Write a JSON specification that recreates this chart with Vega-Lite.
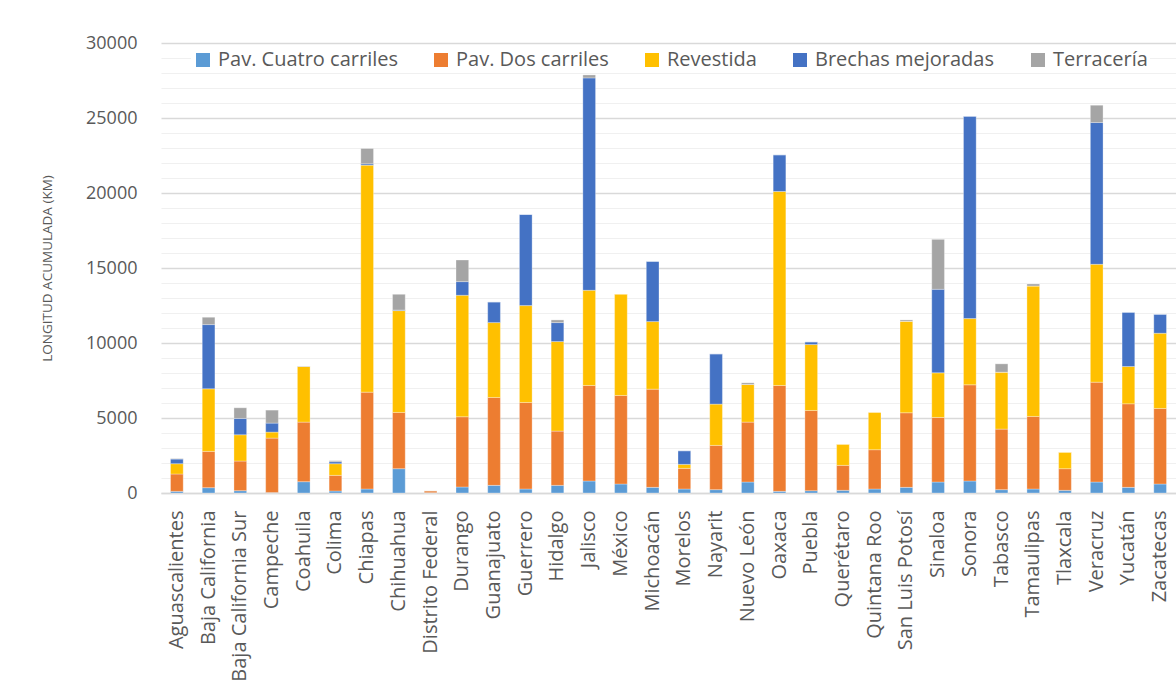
{
  "$schema": "https://vega.github.io/schema/vega-lite/v6.json",
  "width": 1015,
  "height": 450,
  "autosize": {"type": "none"},
  "padding": {"left": 161, "top": 43, "right": 0, "bottom": 199},
  "background": "white",
  "datasets": {
    "tipos": [
      {"k": "c4", "tipo": "Pav. Cuatro carriles", "n": 1},
      {"k": "c2", "tipo": "Pav. Dos carriles", "n": 2},
      {"k": "rev", "tipo": "Revestida", "n": 3},
      {"k": "bre", "tipo": "Brechas mejoradas", "n": 4},
      {"k": "ter", "tipo": "Terracería", "n": 5}
    ]
  },
  "data": {
    "values": [
      {"estado": "Aguascalientes", "c4": 110, "c2": 1155, "rev": 688, "bre": 310, "ter": 30},
      {"estado": "Baja California", "c4": 355, "c2": 2419, "rev": 4171, "bre": 4283, "ter": 488},
      {"estado": "Baja California Sur", "c4": 155, "c2": 1975, "rev": 1753, "bre": 1088, "ter": 710},
      {"estado": "Campeche", "c4": 30, "c2": 3630, "rev": 400, "bre": 600, "ter": 865},
      {"estado": "Coahuila", "c4": 754, "c2": 3972, "rev": 3706, "bre": 0, "ter": 30},
      {"estado": "Colima", "c4": 133, "c2": 1043, "rev": 777, "bre": 133, "ter": 66},
      {"estado": "Chiapas", "c4": 266, "c2": 6458, "rev": 15133, "bre": 89, "ter": 1021},
      {"estado": "Chihuahua", "c4": 1620, "c2": 3750, "rev": 6790, "bre": 40, "ter": 1047},
      {"estado": "Distrito Federal", "c4": 20, "c2": 135, "rev": 0, "bre": 0, "ter": 0},
      {"estado": "Durango", "c4": 400, "c2": 4682, "rev": 8099, "bre": 910, "ter": 1442},
      {"estado": "Guanajuato", "c4": 510, "c2": 5859, "rev": 4992, "bre": 1376, "ter": 0},
      {"estado": "Guerrero", "c4": 266, "c2": 5770, "rev": 6457, "bre": 6080, "ter": 0},
      {"estado": "Hidalgo", "c4": 510, "c2": 3617, "rev": 5969, "bre": 1265, "ter": 178},
      {"estado": "Jalisco", "c4": 799, "c2": 6368, "rev": 6347, "bre": 14157, "ter": 200},
      {"estado": "México", "c4": 599, "c2": 5903, "rev": 6768, "bre": 0, "ter": 0},
      {"estado": "Michoacán", "c4": 377, "c2": 6546, "rev": 4505, "bre": 4016, "ter": 0},
      {"estado": "Morelos", "c4": 266, "c2": 1376, "rev": 266, "bre": 910, "ter": 0},
      {"estado": "Nayarit", "c4": 222, "c2": 2951, "rev": 2752, "bre": 3350, "ter": 0},
      {"estado": "Nuevo León", "c4": 732, "c2": 3994, "rev": 2508, "bre": 0, "ter": 111},
      {"estado": "Oaxaca", "c4": 111, "c2": 7056, "rev": 12937, "bre": 2441, "ter": 0},
      {"estado": "Puebla", "c4": 155, "c2": 5348, "rev": 4394, "bre": 177, "ter": 0},
      {"estado": "Querétaro", "c4": 178, "c2": 1664, "rev": 1420, "bre": 0, "ter": 0},
      {"estado": "Quintana Roo", "c4": 266, "c2": 2619, "rev": 2507, "bre": 0, "ter": 0},
      {"estado": "San Luis Potosí", "c4": 377, "c2": 4971, "rev": 6102, "bre": 0, "ter": 89},
      {"estado": "Sinaloa", "c4": 732, "c2": 4305, "rev": 2974, "bre": 5569, "ter": 3329},
      {"estado": "Sonora", "c4": 799, "c2": 6413, "rev": 4416, "bre": 13491, "ter": 0},
      {"estado": "Tabasco", "c4": 222, "c2": 4038, "rev": 3795, "bre": 0, "ter": 555},
      {"estado": "Tamaulipas", "c4": 266, "c2": 4838, "rev": 8698, "bre": 0, "ter": 133},
      {"estado": "Tlaxcala", "c4": 178, "c2": 1442, "rev": 1109, "bre": 0, "ter": 0},
      {"estado": "Veracruz", "c4": 732, "c2": 6657, "rev": 7856, "bre": 9452, "ter": 1154},
      {"estado": "Yucatán", "c4": 377, "c2": 5570, "rev": 2485, "bre": 3617, "ter": 0},
      {"estado": "Zacatecas", "c4": 599, "c2": 5037, "rev": 5015, "bre": 1265, "ter": 0}
    ]
  },
  "transform": [
    {"fold": ["c4", "c2", "rev", "bre", "ter"], "as": ["k", "km"]},
    {"lookup": "k", "from": {"data": {"name": "tipos"}, "key": "k", "fields": ["tipo", "n"]}}
  ],
  "mark": {"type": "bar", "stroke": "#ffffff", "strokeWidth": 0.5, "strokeOpacity": 0.6},
  "encoding": {
    "x": {
      "field": "estado",
      "type": "nominal",
      "sort": null,
      "scale": {"paddingInner": 0.6, "paddingOuter": 0.3},
      "axis": {
        "title": null,
        "labelAngle": -90,
        "labelFontSize": 20,
        "labelColor": "#595959",
        "labelPadding": 17,
        "labelLimit": 400,
        "ticks": false,
        "domainColor": "#d9d9d9",
        "domainWidth": 1.5
      }
    },
    "y": {
      "field": "km",
      "type": "quantitative",
      "stack": "zero",
      "scale": {"domain": [0, 30000], "nice": false},
      "axis": {
        "title": "LONGITUD ACUMULADA (KM)",
        "titleFontSize": 13.5,
        "titleFontWeight": "normal",
        "titleColor": "#595959",
        "titlePadding": 31,
        "values": [0, 1000, 2000, 3000, 4000, 5000, 6000, 7000, 8000, 9000, 10000, 11000, 12000, 13000, 14000, 15000, 16000, 17000, 18000, 19000, 20000, 21000, 22000, 23000, 24000, 25000, 26000, 27000, 28000, 29000, 30000],
        "format": "d",
        "labelExpr": "datum.value % 5000 === 0 ? datum.label : ''",
        "labelFontSize": 18,
        "labelColor": "#595959",
        "labelPadding": 24,
        "ticks": false,
        "domain": false,
        "grid": true,
        "gridColor": {"condition": {"test": "datum.value % 5000 === 0", "value": "#d9d9d9"}, "value": "#f0f0f0"},
        "gridWidth": {"condition": {"test": "datum.value % 5000 === 0", "value": 1.5}, "value": 1.2}
      }
    },
    "color": {
      "field": "tipo",
      "type": "nominal",
      "scale": {
        "domain": ["Pav. Cuatro carriles", "Pav. Dos carriles", "Revestida", "Brechas mejoradas", "Terracería"],
        "range": ["#5b9bd5", "#ed7d31", "#ffc000", "#4472c4", "#a5a5a5"]
      },
      "legend": {
        "title": null,
        "orient": "none",
        "legendX": 30,
        "legendY": 5,
        "direction": "horizontal",
        "columns": 5,
        "columnPadding": 33,
        "labelOffset": 5,
        "labelFontSize": 20,
        "labelColor": "#595959",
        "labelLimit": 400,
        "symbolType": "square",
        "symbolSize": 196,
        "symbolStrokeWidth": 0,
        "fillColor": "white",
        "padding": 2
      }
    },
    "order": {"field": "n", "type": "quantitative", "sort": "ascending"}
  },
  "config": {
    "font": "Open Sans",
    "view": {"stroke": null}
  }
}
